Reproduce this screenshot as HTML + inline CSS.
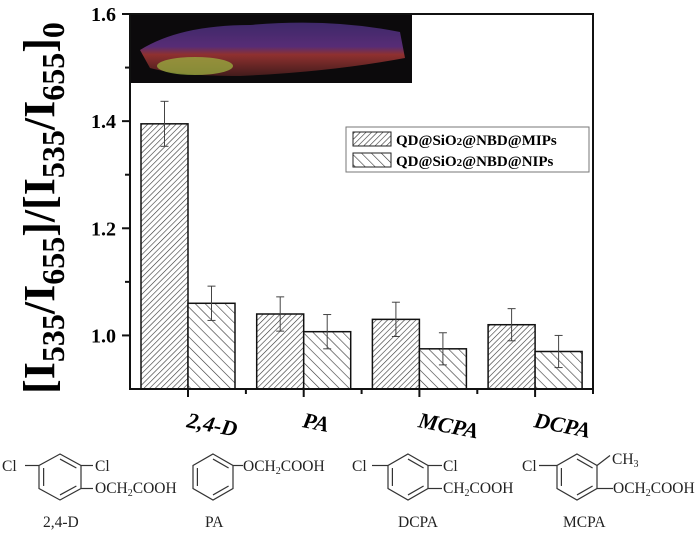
<!DOCTYPE html>
<html><head><meta charset="utf-8"><style>
body{margin:0;background:#fff;width:700px;height:537px;overflow:hidden}
svg{display:block;font-family:"Liberation Serif",serif}
</style></head><body>
<svg id="c" width="700" height="537">
<defs>
<pattern id="pm" width="4" height="4" patternUnits="userSpaceOnUse" patternTransform="rotate(45)"><rect width="4" height="4" fill="#fff"/><line x1="0" y1="0" x2="0" y2="4" stroke="#333" stroke-width="1.2"/></pattern>
<pattern id="pn" width="7" height="7" patternUnits="userSpaceOnUse" patternTransform="rotate(-45)"><rect width="7" height="7" fill="#fff"/><line x1="0" y1="0" x2="0" y2="7" stroke="#333" stroke-width="1.2"/></pattern>
<linearGradient id="tube" x1="0" x2="0" y1="0" y2="1"><stop offset="0" stop-color="#4a3080"/><stop offset="0.45" stop-color="#6a3590"/><stop offset="0.6" stop-color="#b03a38"/><stop offset="1" stop-color="#502020"/></linearGradient>
</defs>
<g>
<rect x="130" y="14" width="282" height="69" fill="#0c0a0c"/>
<path d="M140,50 Q180,25 250,25 Q330,18 400,32 L405,58 Q330,72 240,76 Q180,76 150,68 Z" fill="url(#tube)" opacity="0.8"/>
<ellipse cx="195" cy="66" rx="38" ry="9" fill="#9bb040" opacity="0.75"/>
</g>
<g id="bars"></g>
<g id="axes"></g>
<text transform="translate(54,208) rotate(-90)" text-anchor="middle" font-size="44" font-weight="bold">[I<tspan font-size="32" dy="10">535</tspan><tspan dy="-10">/I</tspan><tspan font-size="32" dy="10">655</tspan><tspan dy="-10">]/[I</tspan><tspan font-size="32" dy="10">535</tspan><tspan dy="-10">/I</tspan><tspan font-size="32" dy="10">655</tspan><tspan dy="-10">]</tspan><tspan font-size="32" dy="10">0</tspan></text>
<g>
<rect x="346" y="127" width="243" height="45" fill="#fff" stroke="#777"/>
<rect x="353" y="132" width="38" height="14" fill="url(#pm)" stroke="#222"/>
<text x="396" y="145" font-size="15" font-weight="bold">QD@SiO<tspan font-size="11">2</tspan>@NBD@MIPs</text>
<rect x="353" y="153" width="38" height="14" fill="url(#pn)" stroke="#222"/>
<text x="396" y="166" font-size="15" font-weight="bold">QD@SiO<tspan font-size="11">2</tspan>@NBD@NIPs</text>
</g>
<g id="struct" font-size="15.5" fill="#222"></g>
</svg>
<script>
const categories=["2,4-D","PA","MCPA","DCPA"];
const mipValues=[1.395,1.04,1.03,1.02];
const mipErrors=[0.042,0.032,0.032,0.03];
const nipValues=[1.06,1.007,0.975,0.97];
const nipErrors=[0.032,0.032,0.03,0.03];
const yTicks=[1.0,1.2,1.4,1.6];
const NS="http://www.w3.org/2000/svg";
const X0=130,X1=593,Y0=14,Y1=389,vMin=0.9,vMax=1.6;
const y=v=>Y1-(v-vMin)/(vMax-vMin)*(Y1-Y0);
const xc=i=>188+i*115.7;
const BW=47;
function mk(t,a,p){const e=document.createElementNS(NS,t);for(const k in a)e.setAttribute(k,a[k]);p.appendChild(e);return e;}
const bars=document.getElementById('bars'),axes=document.getElementById('axes');
function drawBar(i,v,err,x,fill,nm){
 const r=mk('rect',{x:x,y:y(v),width:BW,height:Y1-y(v),fill:fill,stroke:'#111','stroke-width':1.5},bars);
 
 
 const cx=x+BW/2;
 const g=mk('g',{stroke:'#444','stroke-width':1},bars);
 
 
 mk('line',{x1:cx,x2:cx,y1:y(v+err),y2:y(v-err)},g);
 mk('line',{x1:cx-4,x2:cx+4,y1:y(v+err),y2:y(v+err)},g);
 mk('line',{x1:cx-4,x2:cx+4,y1:y(v-err),y2:y(v-err)},g);
}
categories.forEach((c,i)=>{
 drawBar(i,mipValues[i],mipErrors[i],xc(i)-BW,'url(#pm)','mips');
 drawBar(i,nipValues[i],nipErrors[i],xc(i),'url(#pn)','nips');
 const lx=xc(i)-2;
 const t=mk('text',{x:lx,y:Y1+38,'font-size':22,'font-weight':'bold','font-style':'italic',transform:`rotate(11 ${lx} ${Y1+38})`},axes);
 t.textContent=c;
 
 
 mk('line',{x1:xc(i),x2:xc(i),y1:Y1,y2:Y1+8,stroke:'#111','stroke-width':2},axes);
 if(i>0)mk('line',{x1:xc(i)-57.8,x2:xc(i)-57.8,y1:Y1,y2:Y1+5,stroke:'#111','stroke-width':2},axes);
});
mk('line',{x1:X1,x2:X1,y1:Y1,y2:Y1+5,stroke:'#111','stroke-width':2},axes);
const fr=mk('path',{d:`M${X0},${Y0}V${Y1}H${X1}V${Y0}H${X0}`,fill:'none',stroke:'#111','stroke-width':2},axes);


yTicks.forEach(v=>{
 mk('line',{x1:X0-8,x2:X0,y1:y(v),y2:y(v),stroke:'#111','stroke-width':2},axes);
 const t=mk('text',{x:X0-14,y:y(v)+7,'text-anchor':'end','font-size':20,'font-weight':'bold'},axes);
 t.textContent=v.toFixed(1);
 
 
});
[1.1,1.3,1.5].forEach(v=>mk('line',{x1:X0-5,x2:X0,y1:y(v),y2:y(v),stroke:'#111','stroke-width':2},axes));
const st=document.getElementById('struct');
function ring(cx,cy,w,nm){
 const h=23;
 const p=[[cx,cy-h],[cx+w,cy-h/2],[cx+w,cy+h/2],[cx,cy+h],[cx-w,cy+h/2],[cx-w,cy-h/2]];
 const g=mk('g',{fill:'none',stroke:'#333','stroke-width':1.2},st);
 
 
 mk('polygon',{points:p.map(q=>q.join(',')).join(' ')},g);
 const q=p.map(([a,b])=>[cx+(a-cx)*0.78,cy+(b-cy)*0.78]);
 [[0,1],[2,3],[4,5]].forEach(([a,b])=>mk('line',{x1:q[a][0],y1:q[a][1],x2:q[b][0],y2:q[b][1]},g));
 return {g,p};
}
function bond(g,x1,y1,x2,y2){mk('line',{x1,y1,x2,y2},g);}
function txt(x,yy,s,nm){const t=mk('text',{x:x,y:yy},st);t.innerHTML=s;}
const sub2='<tspan font-size="10" dy="3">2</tspan><tspan dy="-3">COOH</tspan>';
let r=ring(60,477,21,'structure-2-4-d');
bond(r.g,r.p[5][0]-14,r.p[5][1],r.p[5][0],r.p[5][1]);bond(r.g,r.p[1][0],r.p[1][1],r.p[1][0]+12,r.p[1][1]);bond(r.g,r.p[2][0],r.p[2][1],r.p[2][0]+12,r.p[2][1]);
txt(2,471,'Cl','cl-label');txt(95,471,'Cl','cl-label');txt(95,493,'OCH'+sub2,'substituent');
txt(43,527,'2,4-D','structure-name');
r=ring(213,477,20,'structure-pa');
bond(r.g,r.p[1][0],r.p[1][1],r.p[1][0]+10,r.p[1][1]);
txt(243,471,'OCH'+sub2,'substituent');txt(205,527,'PA','structure-name');
r=ring(408,477,20,'structure-dcpa');
bond(r.g,r.p[5][0]-16,r.p[5][1],r.p[5][0],r.p[5][1]);bond(r.g,r.p[1][0],r.p[1][1],r.p[1][0]+14,r.p[1][1]);bond(r.g,r.p[2][0],r.p[2][1],r.p[2][0]+14,r.p[2][1]);
txt(352,471,'Cl','cl-label');txt(443,471,'Cl','cl-label');txt(443,493,'CH'+sub2,'substituent');txt(398,527,'DCPA','structure-name');
r=ring(577,477,20,'structure-mcpa');
bond(r.g,r.p[5][0]-18,r.p[5][1],r.p[5][0],r.p[5][1]);bond(r.g,r.p[1][0],r.p[1][1],r.p[1][0]+13,r.p[1][1]-10);bond(r.g,r.p[2][0],r.p[2][1],r.p[2][0]+16,r.p[2][1]);
txt(522,471,'Cl','cl-label');txt(612,464,'CH<tspan font-size="10" dy="3">3</tspan>','substituent');txt(613,493,'OCH'+sub2,'substituent');txt(563,527,'MCPA','structure-name');
</script>
</body></html>
